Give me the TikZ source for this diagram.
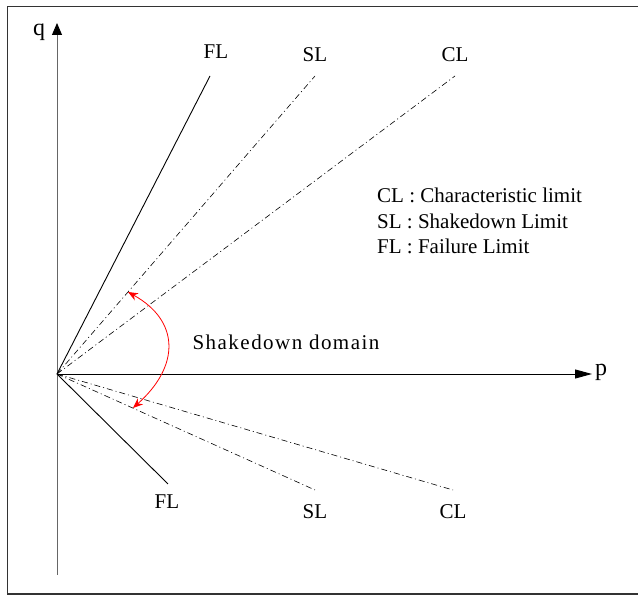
\documentclass[tikz,border=0pt]{standalone}
\usepackage{fontspec}
\setmainfont{Liberation Serif}
\usetikzlibrary{arrows.meta}
\begin{document}
\begin{tikzpicture}[
        x=1pt, y=1pt,
        axis/.style={line width=0.9pt},
        limit/.style={line width=0.6pt, dash pattern=on 6pt off 3pt on 1pt off 3pt},
        failure/.style={line width=0.9pt},
        txt/.style={font=\fontsize{21}{25}\selectfont, inner sep=0pt},
        axtxt/.style={font=\fontsize{24}{28}\selectfont, inner sep=0pt},
        sdarrow/.style={{Stealth[length=10pt,width=8pt]}-{Stealth[length=10pt,width=8pt]}, red, line width=0.8pt}
        ]
        \useasboundingbox (0,0) rectangle (638,596);
        \draw[line width=1.2pt, black!80] (7.5,2) rectangle (645,589.5);

        % axes
        \coordinate (o) at (57,222);
        \coordinate (qbot) at (57,21);
        \coordinate (qtop) at (57,573);
        \coordinate (pend) at (592,222);
        \draw[axis, black!60, -{Triangle[length=12pt,width=10pt,color=black]}] (qbot) -- (qtop);
        \draw[axis, -{Triangle[length=17pt,width=9pt]}] (o) -- (pend);
        \node[axtxt] (q) at (39,564) {q};
        \node[axtxt] (p) at (601,224) {p};

        % limit lines
        \coordinate (flup) at (210,520);
        \coordinate (slup) at (315,520);
        \coordinate (clup) at (455,520);
        \coordinate (fldn) at (168,112);
        \coordinate (sldn) at (315,106);
        \coordinate (cldn) at (453,106);
        \draw[failure] (o) -- (flup);
        \draw[limit] (o) -- (slup);
        \draw[limit] (o) -- (clup);
        \draw[failure] (o) -- (fldn);
        \draw[limit] (o) -- (sldn);
        \draw[limit] (o) -- (cldn);

        \node[txt] (flu) at (216,544) {FL};
        \node[txt] (slu) at (315,541) {SL};
        \node[txt] (clu) at (455,541) {CL};
        \node[txt] (fld) at (167,94) {FL};
        \node[txt] (sld) at (315,84) {SL};
        \node[txt] (cld) at (453,84) {CL};

        % shakedown domain
        \coordinate (da) at (128,304);
        \coordinate (db) at (133,188);
        \draw[sdarrow] (da) .. controls (180,275) and (180,230) .. (db);
        \node[txt] (sd) at (286,254) {\addfontfeature{LetterSpace=7}Shakedown domain};

        % legend
        \node[txt, anchor=west] (lcl) at (377,401) {CL : Characteristic limit};
        \node[txt, anchor=west] (lsl) at (377,375) {SL : Shakedown Limit};
        \node[txt, anchor=west] (lfl) at (377,350) {FL : Failure Limit};
    \end{tikzpicture}
\end{document}
